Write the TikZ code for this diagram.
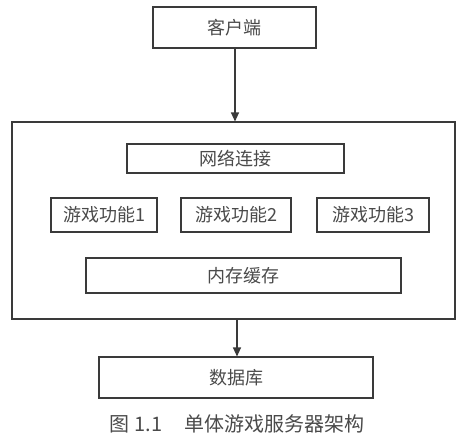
\documentclass[tikz,border=0pt]{standalone}
\usepackage{fontspec}
\setmainfont{Noto Sans CJK SC}
\usetikzlibrary{arrows.meta}
\definecolor{ln}{HTML}{3A3A3A}
\definecolor{tx}{HTML}{4A4A4A}
\tikzset{
  box/.style={draw=ln, line width=1.1pt, rectangle, inner sep=0pt, text=tx, font=\fontsize{18}{21}\selectfont},
  conn/.style={draw=ln, line width=1.1pt, -{Triangle[length=9pt,width=8pt]}}
}
\begin{document}
\begin{tikzpicture}[x=1pt,y=-1pt]
\useasboundingbox (0,0) rectangle (465,442);
\node[box, minimum width=163pt, minimum height=41pt] (client) at (234.5,27.5) {客户端};
\node[box, minimum width=443pt, minimum height=197pt] (server) at (233.5,220.5) {};
\node[box, minimum width=217pt, minimum height=29pt] (net) at (235.5,158.5) {网络连接};
\node[box, minimum width=106pt, minimum height=34pt] (g1) at (104,215) {游戏功能1};
\node[box, minimum width=110pt, minimum height=34pt] (g2) at (236,215) {游戏功能2};
\node[box, minimum width=112pt, minimum height=34pt] (g3) at (373,215) {游戏功能3};
\node[box, minimum width=315pt, minimum height=35pt] (mem) at (243.5,275.5) {内存缓存};
\node[box, minimum width=274pt, minimum height=41pt] (db) at (236,377.5) {数据库};
\node[text=tx, font=\fontsize{20}{24}\selectfont] (cap) at (237,424) {图 1.1\hspace{1.1em}单体游戏服务器架构};
\draw[conn] (client.south -| 235,0) -- (server.north -| 235,0);
\draw[conn] (server.south -| 237,0) -- (db.north -| 237,0);
\end{tikzpicture}
\end{document}
